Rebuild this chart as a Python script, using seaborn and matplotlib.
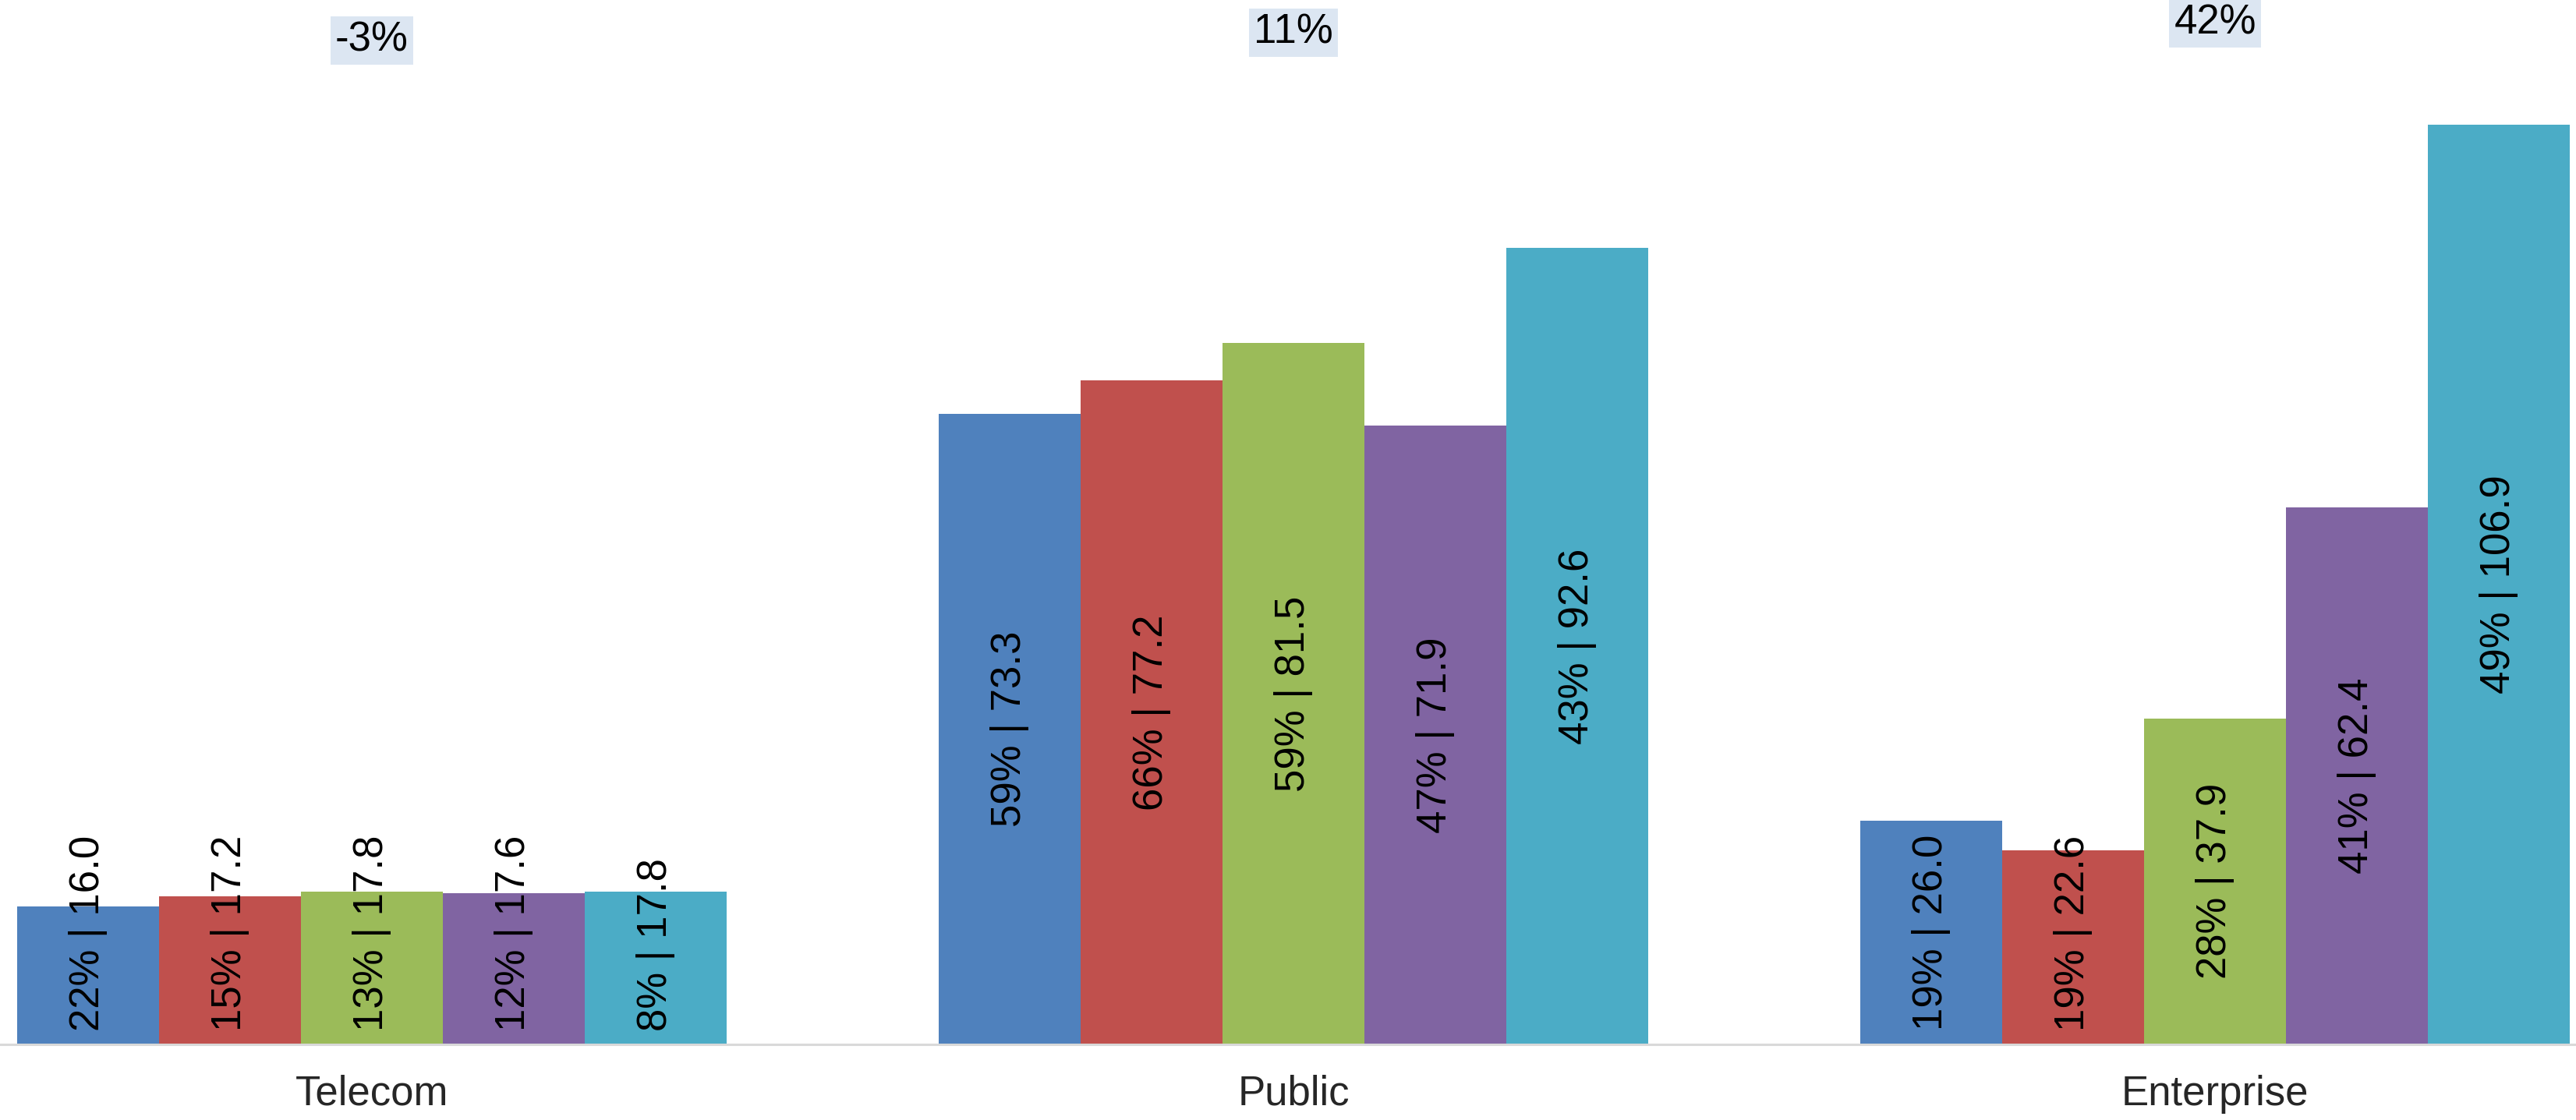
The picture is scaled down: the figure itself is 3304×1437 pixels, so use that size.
import matplotlib
matplotlib.use("Agg")
import matplotlib.pyplot as plt
import seaborn as sns
import pandas as pd

# Segment revenue by period, with each bar's share and the segment growth
segments = ["Telecom", "Public", "Enterprise"]
periods = ["P1", "P2", "P3", "P4", "P5"]
values = {
    "Telecom":    [16.0, 17.2, 17.8, 17.6, 17.8],
    "Public":     [73.3, 77.2, 81.5, 71.9, 92.6],
    "Enterprise": [26.0, 22.6, 37.9, 62.4, 106.9],
}
shares = {
    "Telecom":    [22, 15, 13, 12, 8],
    "Public":     [59, 66, 59, 47, 43],
    "Enterprise": [19, 19, 28, 41, 49],
}
growth = ["-3%", "11%", "42%"]

colors = ["#4F81BD", "#C0504D", "#9BBB59", "#8064A2", "#4BACC6"]

rows = []
for seg in segments:
    for i, p in enumerate(periods):
        rows.append({"segment": seg, "period": p,
                     "value": values[seg][i], "share": shares[seg][i]})
df = pd.DataFrame(rows)

sns.set_style("white")
plt.rcParams["font.family"] = ["Liberation Sans", "DejaVu Sans"]

fig = plt.figure(figsize=(33.04, 14.37), dpi=100)
ax = fig.add_axes([0.0, 0.0675, 1.0, 0.9325])

sns.barplot(data=df, x="segment", y="value", hue="period", order=segments,
            hue_order=periods, palette=colors, saturation=1, width=0.77,
            linewidth=0, legend=False, ax=ax)

ax.set_xlim(-0.4035, 2.3915)
ax.set_ylim(0, 121.4)
ax.set_xlabel("")
ax.set_ylabel("")
ax.set_yticks([])
ax.tick_params(axis="x", length=0, pad=28, labelsize=38)
for side in ["left", "right", "top"]:
    ax.spines[side].set_visible(False)
ax.spines["bottom"].set_color("#D9D9D9")
ax.spines["bottom"].set_linewidth(2.2)

# value labels inside the bars, centred, lifted off the baseline when too long
fig.canvas.draw()
renderer = fig.canvas.get_renderer()
px_per_unit = ax.transData.transform((0, 1))[1] - ax.transData.transform((0, 0))[1]
base_pad = 17 / px_per_unit
for k, container in enumerate(ax.containers):
    for j, bar in enumerate(container):
        seg = segments[j]
        h = values[seg][k]
        label = f"{shares[seg][k]}% | {h:.1f}"
        xc = bar.get_x() + bar.get_width() / 2
        t = ax.text(xc, h / 2, label, rotation=90, ha="center", va="center",
                    fontsize=38, color="black")
        ext = t.get_window_extent(renderer)
        length = ext.height / px_per_unit
        if h / 2 - length / 2 < base_pad:
            t.set_y(base_pad)
            t.set_va("bottom")

# growth badges above each segment
badge_y = [116.7, 117.6, 118.7]
for i, g in enumerate(growth):
    ax.text(i, badge_y[i], g, ha="center", va="center", fontsize=38,
            color="black",
            bbox=dict(boxstyle="square,pad=0.12", facecolor="#DCE6F2",
                      edgecolor="none"))

fig.savefig("out.png", dpi=100)
